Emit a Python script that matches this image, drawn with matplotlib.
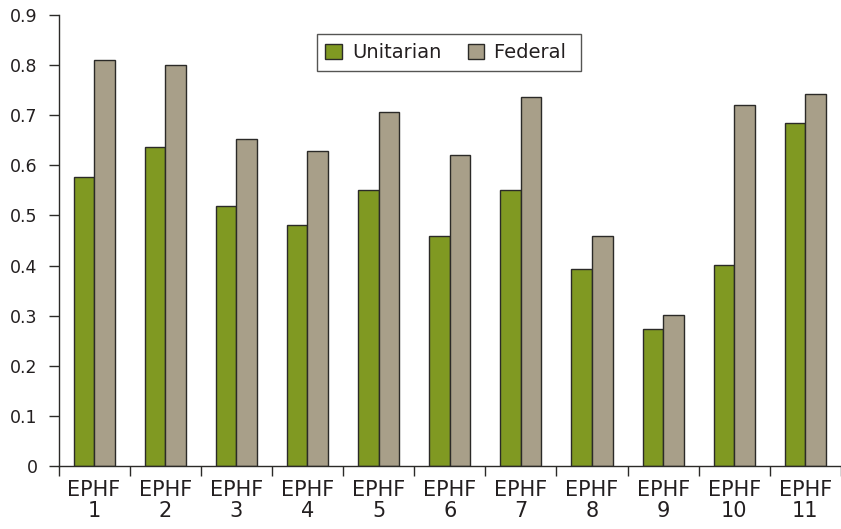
import matplotlib
matplotlib.use("Agg")
import matplotlib.pyplot as plt
import numpy as np

categories = ["EPHF\n1", "EPHF\n2", "EPHF\n3", "EPHF\n4", "EPHF\n5", "EPHF\n6",
              "EPHF\n7", "EPHF\n8", "EPHF\n9", "EPHF\n10", "EPHF\n11"]
unitarian = [0.577, 0.637, 0.518, 0.480, 0.550, 0.458, 0.551, 0.393, 0.273, 0.402, 0.685]
federal = [0.810, 0.800, 0.653, 0.629, 0.706, 0.621, 0.736, 0.458, 0.301, 0.720, 0.743]
yticks = [0, 0.1, 0.2, 0.3, 0.4, 0.5, 0.6, 0.7, 0.8, 0.9]
ytick_labels = ["0", "0.1", "0.2", "0.3", "0.4", "0.5", "0.6", "0.7", "0.8", "0.9"]

GREEN = "#809922"
TAN = "#a89f89"
EDGE = "#2b2a28"
TEXT = "#231f20"

plt.rcParams["font.family"] = ["DejaVu Sans"]

fig = plt.figure(figsize=(8.41, 5.29), dpi=100)
ax = fig.add_axes([58.5 / 841, 63 / 529, 1 - 58.5 / 841, 451 / 529])

x = np.arange(len(categories))
w = 0.289
ax.bar(x - w / 2, unitarian, width=w, color=GREEN, edgecolor=EDGE, linewidth=1.0,
       label="Unitarian", zorder=2)
ax.bar(x + w / 2, federal, width=w, color=TAN, edgecolor=EDGE, linewidth=1.0,
       label="Federal ", zorder=2)

ax.set_xlim(-0.5, 10.42)
ax.set_ylim(0, 0.9)

ax.set_yticks(yticks)
ax.set_yticklabels(ytick_labels)
ax.set_xticks(np.arange(-0.5, 10.6, 1.0))
ax.set_xticklabels([])
ax.set_xticks(x, minor=True)
ax.set_xticklabels(categories, minor=True, linespacing=1.1)

ax.tick_params(axis="y", direction="out", length=7, width=1.0, color=EDGE,
               labelsize=12.5, labelcolor=TEXT, pad=8)
ax.tick_params(axis="x", which="major", direction="out", length=7, width=1.0, color=EDGE)
ax.tick_params(axis="x", which="minor", length=0, labelsize=15, labelcolor=TEXT, pad=10)

for side in ("top", "right"):
    ax.spines[side].set_visible(False)
for side in ("left", "bottom"):
    ax.spines[side].set_color(EDGE)
    ax.spines[side].set_linewidth(1.0)

leg = ax.legend(loc="upper left", bbox_to_anchor=(0.330, 0.957), ncol=2,
                fontsize=14, frameon=True, fancybox=False, borderaxespad=0,
                handlelength=0.86, handleheight=0.86, handletextpad=0.5,
                columnspacing=1.35, borderpad=0.45)
leg.get_frame().set_edgecolor(EDGE)
leg.get_frame().set_linewidth(1.0)
for t in leg.get_texts():
    t.set_color(TEXT)

fig.savefig("out.png", dpi=100)
